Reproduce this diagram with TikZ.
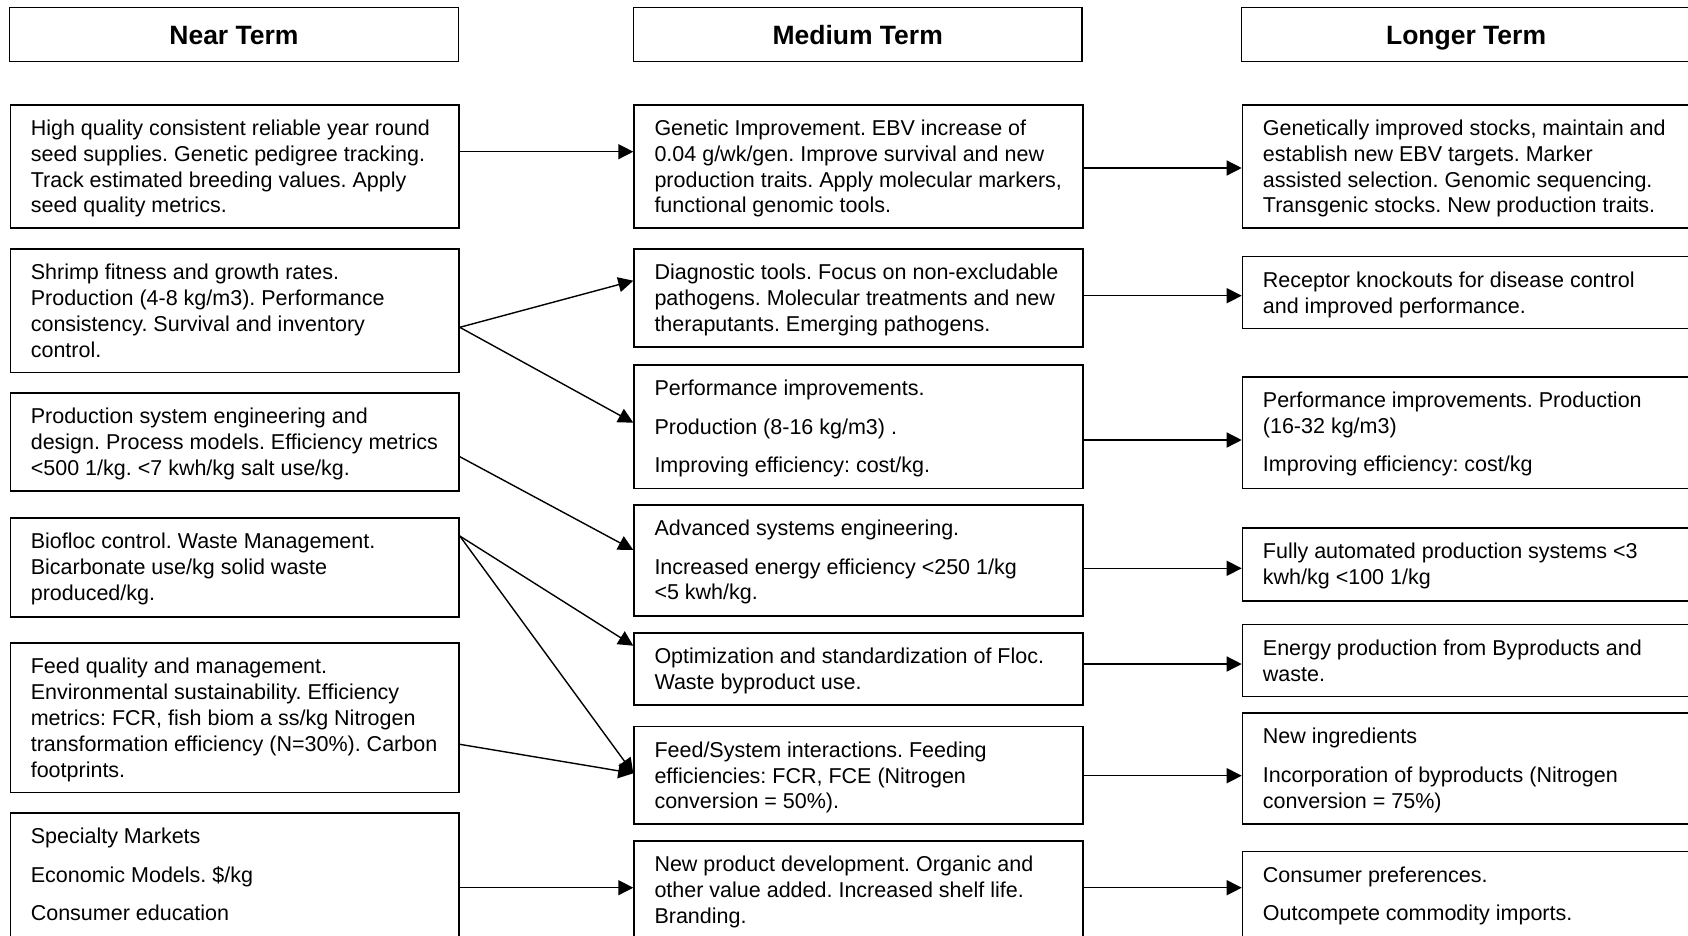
\documentclass[tikz,border=0pt]{standalone}
\usepackage{fontspec}
\setmainfont{Liberation Sans}
\usetikzlibrary{arrows.meta,calc}
\frenchspacing
\newcommand{\mybxtext}[1]{\parbox[t]{600pt}{\raggedright\frenchspacing #1}}
\tikzset{
  box/.style={draw, line width=1.5pt, rectangle, inner sep=0pt, minimum width=448.7pt, anchor=north west},
  hdr/.style={draw, line width=1.5pt, rectangle, inner sep=0pt, minimum width=448.7pt, minimum height=54pt, anchor=center,
    font=\fontsize{26.5}{30}\selectfont\bfseries, text height=18.8pt, text depth=0pt},
  txt/.style={anchor=base west, inner sep=0pt, font=\fontsize{21.5}{25.8}\selectfont},
  arr/.style={line width=1.4pt, -{Triangle[length=15pt,width=15pt]}},
}
\begin{document}
\begin{tikzpicture}[x=1pt,y=-1pt]
\useasboundingbox (0,0) rectangle (1688,935);
% headers
\node[hdr] (hn) at (233.95,34.7) {Near Term};
\node[hdr] (hm) at (857.65,34.7) {Medium Term};
\node[hdr] (hl) at (1466.05,34.7) {Longer Term};
% left column
\node[box, minimum height=123.3pt] (n1) at (9.6,104) {};
\node[box, minimum height=123.4pt] (n2) at (9.6,248.3) {};
\node[box, minimum height=97.7pt] (n3) at (9.6,392.3) {};
\node[box, minimum height=98.7pt] (n4) at (9.6,517.3) {};
\node[box, minimum height=149.4pt] (n5) at (9.6,642.3) {};
\node[box, minimum height=150pt] (n6) at (9.6,812.3) {};
% middle column
\node[box, minimum height=123.3pt] (m1) at (633.3,104) {};
\node[box, minimum height=97.7pt] (m2) at (633.3,248.3) {};
\node[box, minimum height=123.7pt] (m3) at (633.3,364) {};
\node[box, minimum height=111pt] (m4) at (633.3,504) {};
\node[box, minimum height=71.7pt] (m5) at (633.3,632.3) {};
\node[box, minimum height=97.6pt] (m6) at (633.3,725.7) {};
\node[box, minimum height=150pt] (m7) at (633.3,840) {};
% right column
\node[box, minimum height=123.3pt] (l1) at (1241.7,104) {};
\node[box, minimum height=72pt] (l2) at (1241.7,255.7) {};
\node[box, minimum height=111.7pt] (l3) at (1241.7,376) {};
\node[box, minimum height=72.7pt] (l4) at (1241.7,527.3) {};
\node[box, minimum height=72pt] (l5) at (1241.7,623.7) {};
\node[box, minimum height=111pt] (l6) at (1241.7,712.3) {};
\node[box, minimum height=150pt] (l7) at (1241.7,850.7) {};
% texts left
\node[txt] (n1t) at ($(n1.north west)+(21,31.5)$) {\mybxtext{High quality consistent reliable year round\\seed supplies. Genetic pedigree tracking.\\Track estimated breeding values. Apply\\seed quality metrics.}};
\node[txt] (n2t) at ($(n2.north west)+(21,31.5)$) {\mybxtext{Shrimp fitness and growth rates.\\Production (4-8 kg/m3). Performance\\consistency. Survival and inventory\\control.}};
\node[txt] (n3t) at ($(n3.north west)+(21,31.5)$) {\mybxtext{Production system engineering and\\design. Process models. Efficiency metrics\\<500 1/kg. <7 kwh/kg salt use/kg.}};
\node[txt] (n4t) at ($(n4.north west)+(21,31.5)$) {\mybxtext{Biofloc control. Waste Management.\\Bicarbonate use/kg solid waste\\produced/kg.}};
\node[txt] (n5t) at ($(n5.north west)+(21,31.5)$) {\mybxtext{Feed quality and management.\\Environmental sustainability. Efficiency\\metrics: FCR, fish biom a ss/kg Nitrogen\\transformation efficiency (N=30\%). Carbon\\footprints.}};
\node[txt] (n6t) at ($(n6.north west)+(21,31.5)$) {\mybxtext{Specialty Markets\\[12.7pt]Economic Models. \$/kg\\[12.7pt]Consumer education}};
% texts middle
\node[txt] (m1t) at ($(m1.north west)+(21,31.5)$) {\mybxtext{Genetic Improvement. EBV increase of\\0.04 g/wk/gen. Improve survival and new\\production traits. Apply molecular markers,\\functional genomic tools.}};
\node[txt] (m2t) at ($(m2.north west)+(21,31.5)$) {\mybxtext{Diagnostic tools. Focus on non-excludable\\pathogens. Molecular treatments and new\\theraputants. Emerging pathogens.}};
\node[txt] (m3t) at ($(m3.north west)+(21,31.5)$) {\mybxtext{Performance improvements.\\[12.7pt]Production (8-16 kg/m3) .\\[12.7pt]Improving efficiency: cost/kg.}};
\node[txt] (m4t) at ($(m4.north west)+(21,31.5)$) {\mybxtext{Advanced systems engineering.\\[12.7pt]Increased energy efficiency <250 1/kg\\<5 kwh/kg.}};
\node[txt] (m5t) at ($(m5.north west)+(21,31.5)$) {\mybxtext{Optimization and standardization of Floc.\\Waste byproduct use.}};
\node[txt] (m6t) at ($(m6.north west)+(21,31.5)$) {\mybxtext{Feed/System interactions. Feeding\\efficiencies: FCR, FCE (Nitrogen\\conversion = 50\%).}};
\node[txt] (m7t) at ($(m7.north west)+(21,31.5)$) {\mybxtext{New product development. Organic and\\other value added. Increased shelf life.\\Branding.}};
% texts right
\node[txt] (l1t) at ($(l1.north west)+(21,31.5)$) {\mybxtext{Genetically improved stocks, maintain and\\establish new EBV targets. Marker\\assisted selection. Genomic sequencing.\\Transgenic stocks. New production traits.}};
\node[txt] (l2t) at ($(l2.north west)+(21,31.5)$) {\mybxtext{Receptor knockouts for disease control\\and improved performance.}};
\node[txt] (l3t) at ($(l3.north west)+(21,31.5)$) {\mybxtext{Performance improvements. Production\\(16-32 kg/m3)\\[12.7pt]Improving efficiency: cost/kg}};
\node[txt] (l4t) at ($(l4.north west)+(21,31.5)$) {\mybxtext{Fully automated production systems <3\\kwh/kg <100 1/kg}};
\node[txt] (l5t) at ($(l5.north west)+(21,31.5)$) {\mybxtext{Energy production from Byproducts and\\waste.}};
\node[txt] (l6t) at ($(l6.north west)+(21,31.5)$) {\mybxtext{New ingredients\\[12.7pt]Incorporation of byproducts (Nitrogen\\conversion = 75\%)}};
\node[txt] (l7t) at ($(l7.north west)+(21,31.5)$) {\mybxtext{Consumer preferences.\\[12.7pt]Outcompete commodity imports.}};
% connector levels
\coordinate (ya) at (0,151.7);
\coordinate (yb) at (0,327.3);
\coordinate (yc) at (0,280.7);
\coordinate (yd) at (0,422.7);
\coordinate (ye) at (0,456.7);
\coordinate (yf) at (0,550);
\coordinate (yg) at (0,536);
\coordinate (yh) at (0,645.7);
\coordinate (yi) at (0,773.3);
\coordinate (yj) at (0,744.3);
\coordinate (yk) at (0,887.7);
\coordinate (ym1) at (0,168);
\coordinate (ym2) at (0,295.7);
\coordinate (ym3) at (0,440);
\coordinate (ym4) at (0,568.3);
\coordinate (ym5) at (0,664);
\coordinate (ym6) at (0,775.7);
% near -> medium
\draw[arr] (n1.east |- ya) -- (m1.west |- ya);
\draw[arr] (n2.east |- yb) -- (m2.west |- yc);
\draw[arr] (n2.east |- yb) -- (m3.west |- yd);
\draw[arr] (n3.east |- ye) -- (m4.west |- yf);
\draw[arr] (n4.east |- yg) -- (m5.west |- yh);
\draw[arr] (n4.east |- yg) -- (m6.west |- yi);
\draw[arr] (n5.east |- yj) -- (m6.west |- yi);
\draw[arr] (n6.east |- yk) -- (m7.west |- yk);
% medium -> longer
\draw[arr] (m1.east |- ym1) -- (l1.west |- ym1);
\draw[arr] (m2.east |- ym2) -- (l2.west |- ym2);
\draw[arr] (m3.east |- ym3) -- (l3.west |- ym3);
\draw[arr] (m4.east |- ym4) -- (l4.west |- ym4);
\draw[arr] (m5.east |- ym5) -- (l5.west |- ym5);
\draw[arr] (m6.east |- ym6) -- (l6.west |- ym6);
\draw[arr] (m7.east |- yk) -- (l7.west |- yk);
\end{tikzpicture}
\end{document}
